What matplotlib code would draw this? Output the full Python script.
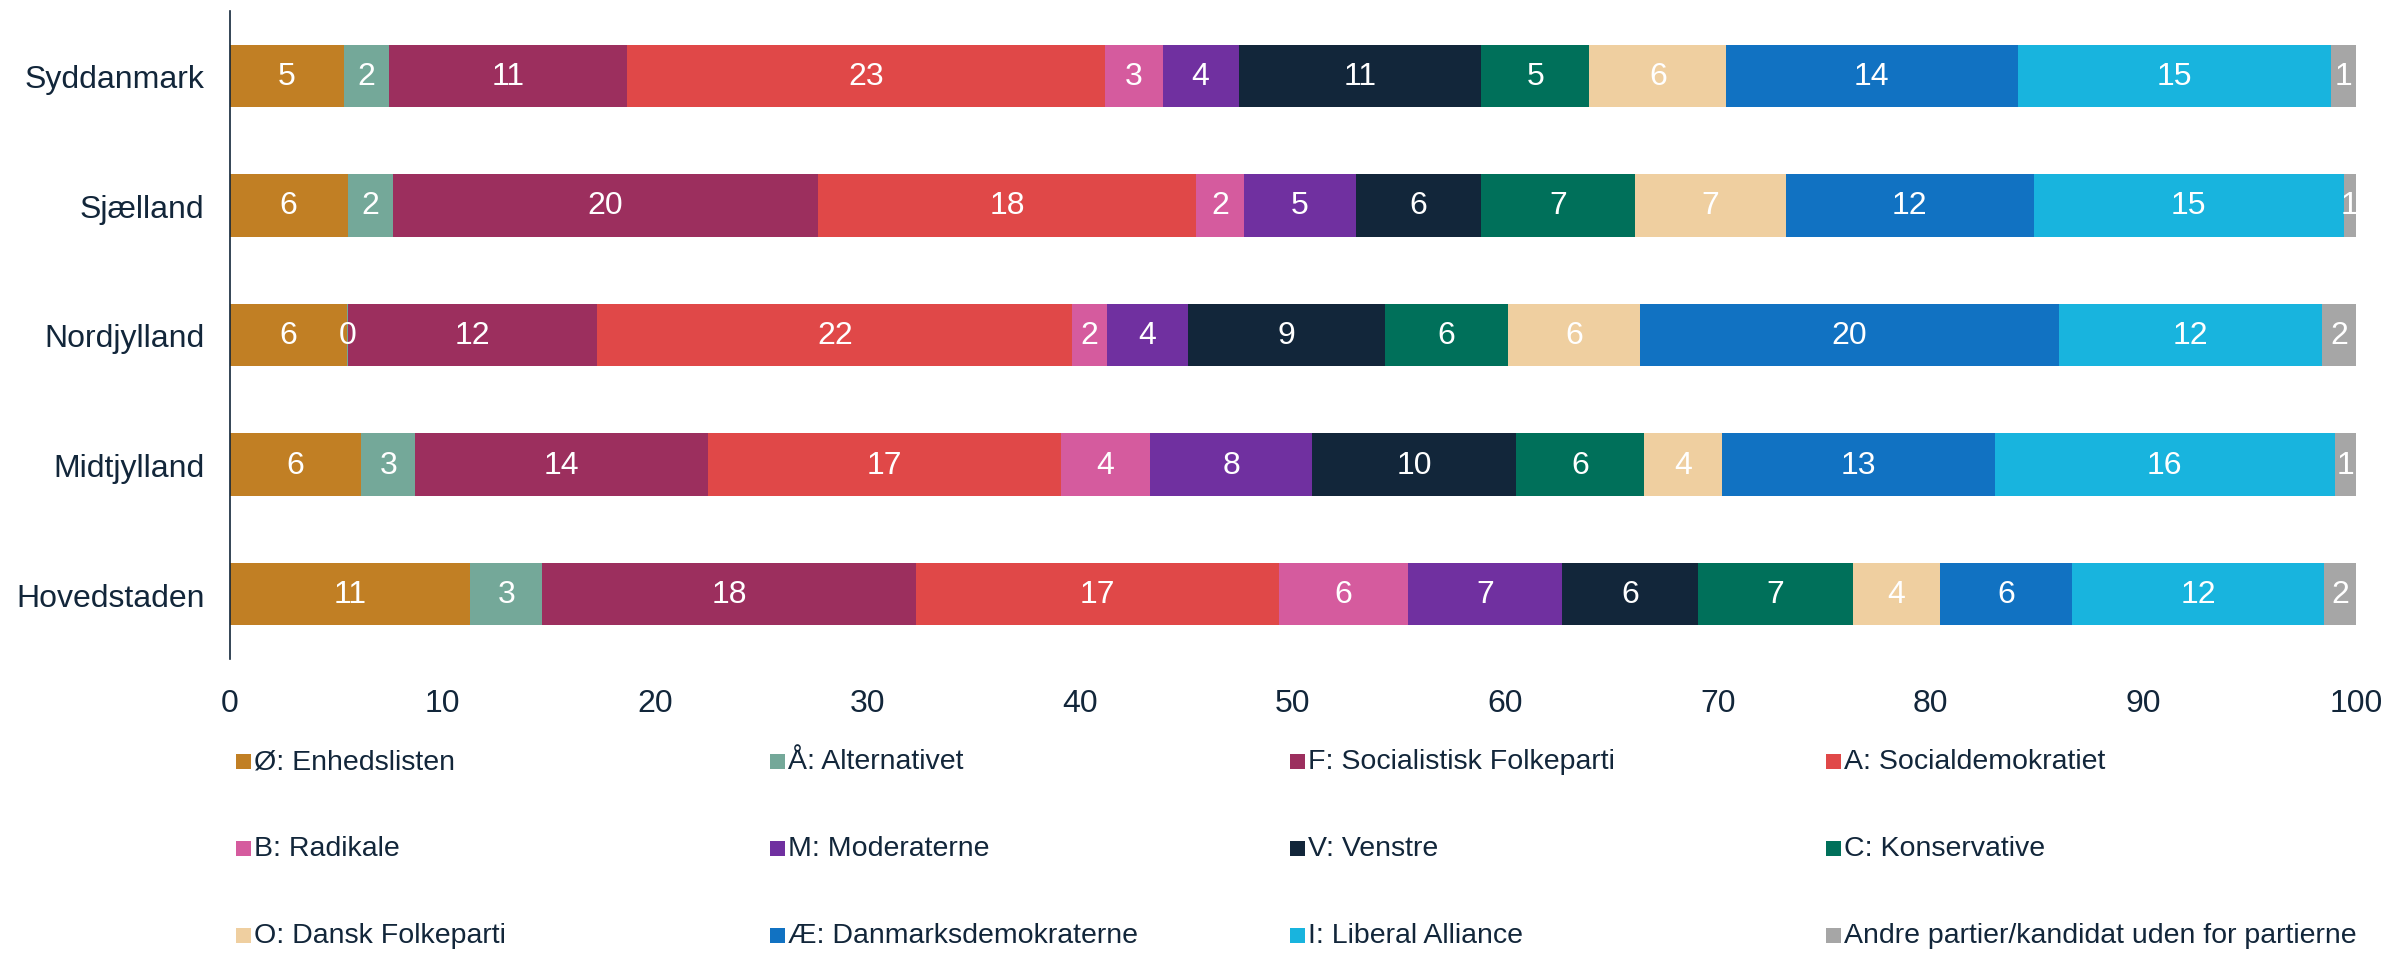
import numpy as np
import matplotlib
matplotlib.use("Agg")
import matplotlib.pyplot as plt
from matplotlib.patches import Rectangle

plt.rcParams["font.family"] = ["Liberation Sans", "DejaVu Sans"]

navy = "#12263A"

regions = ["Syddanmark", "Sjælland", "Nordjylland", "Midtjylland", "Hovedstaden"]
parties = [
    "Ø: Enhedslisten", "Å: Alternativet", "F: Socialistisk Folkeparti", "A: Socialdemokratiet",
    "B: Radikale", "M: Moderaterne", "V: Venstre", "C: Konservative",
    "O: Dansk Folkeparti", "Æ: Danmarksdemokraterne", "I: Liberal Alliance",
    "Andre partier/kandidat uden for partierne",
]
colors = [
    "#C17F24", "#74A899", "#9C2F5E", "#E04848",
    "#D55B9E", "#7030A0", "#12263A", "#00705A",
    "#EFCFA0", "#1172C2", "#18B4DE", "#A6A6A6",
]

# shares (%) per region, in party order
syddanmark = [5.38, 2.14, 11.15, 22.51, 2.70, 3.57, 11.41, 5.09, 6.43, 13.70, 14.73, 1.19]
sjaelland = [5.55, 2.14, 19.96, 17.82, 2.24, 5.24, 5.92, 7.24, 7.07, 11.66, 14.59, 0.57]
nordjylland = [5.52, 0.03, 11.75, 22.32, 1.63, 3.84, 9.24, 5.77, 6.23, 19.68, 12.40, 1.59]
midtjylland = [6.20, 2.52, 13.78, 16.60, 4.20, 7.60, 9.60, 6.00, 3.70, 12.80, 16.00, 1.00]
hovedstaden = [11.32, 3.39, 17.56, 17.06, 6.10, 7.24, 6.39, 7.28, 4.10, 6.22, 11.82, 1.52]

shares = np.array([syddanmark, sjaelland, nordjylland, midtjylland, hovedstaden])


def main():
    fig = plt.figure(figsize=(23.89, 9.54), dpi=100)
    ax = fig.add_axes([0.0961, 0.3082, 0.8901, 0.6792])

    y = np.arange(len(regions))
    left = np.zeros(len(regions))
    for j, party in enumerate(parties):
        vals = shares[:, j]
        ax.barh(y, vals, left=left, height=0.48, color=colors[j], linewidth=0, label=party)
        for i, v in enumerate(vals):
            ax.text(left[i] + v / 2, y[i], f"{v:.0f}", ha="center", va="center",
                    color="white", fontsize=23)
        left += vals

    ax.set_xlim(0, 100)
    ax.set_ylim(len(regions) - 0.5, -0.5)
    ax.set_yticks(y)
    ax.set_yticklabels(regions)
    ax.set_xticks(np.arange(0, 101, 10))
    ax.tick_params(axis="both", length=0, labelsize=23, labelcolor=navy)
    ax.tick_params(axis="x", pad=21)
    ax.tick_params(axis="y", pad=18)
    for s in ["top", "right", "bottom"]:
        ax.spines[s].set_visible(False)
    ax.spines["left"].set_color(navy)
    ax.spines["left"].set_linewidth(1.2)

    # legend laid out on a fixed grid, row by row
    W, H = 2389, 954
    col_x = [236, 770, 1290, 1826]
    row_y = [762, 849, 936]
    box = 15
    for k, party in enumerate(parties):
        r, c = divmod(k, 4)
        x0 = col_x[c] / W
        yc = 1 - row_y[r] / H
        fig.add_artist(Rectangle((x0, yc - box / 2 / H), box / W, box / H,
                                 transform=fig.transFigure, color=colors[k], lw=0))
        fig.text(x0 + (box + 3) / W, yc, party, ha="left", va="center",
                 fontsize=20.5, color=navy)

    fig.savefig("out.png", dpi=100)


if __name__ == "__main__":
    main()
